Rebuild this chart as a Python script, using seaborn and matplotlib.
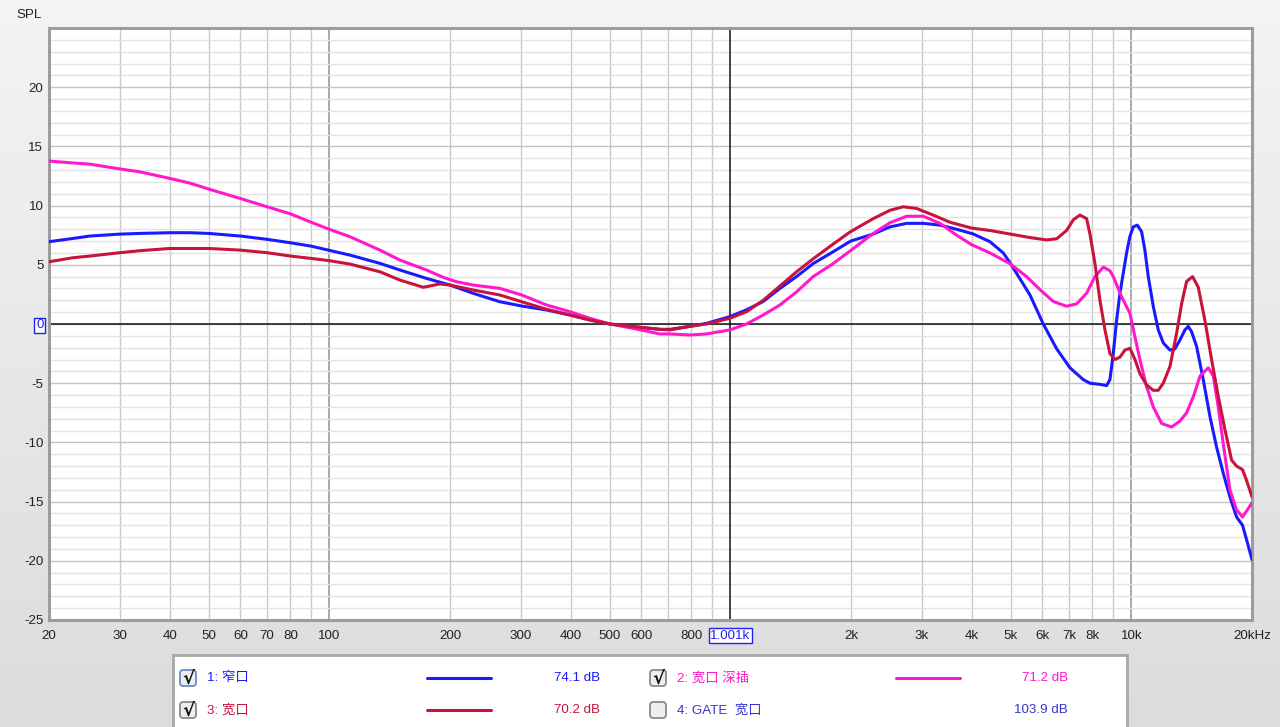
import numpy as np
import pandas as pd
import matplotlib
matplotlib.use("Agg")
import matplotlib.pyplot as plt
from matplotlib.patches import FancyBboxPatch
import seaborn as sns

# --- data (Hz, dB) ---
blue_freq = [20, 23, 25.3, 30, 33.7, 40, 44.9, 50, 60, 70, 80, 90, 100, 112.6, 133.8, 150,
             174.8, 199.9, 228.5, 266.3, 301.8, 348.4, 398.4, 446.5, 501, 572.6, 667, 707,
             793, 872, 997, 1098, 1208, 1329, 1462, 1609, 1805, 1995, 2273, 2500, 2753,
             3030, 3334, 3669, 4037, 4442, 4796, 5000, 5589, 6033, 6515, 7032, 7591, 7887,
             8353, 8679, 8846, 9017, 9191, 9369, 9550, 9734, 9922, 10114, 10349, 10611,
             10816, 11025, 11345, 11676, 12016, 12484, 12848, 13222, 13607, 13870, 14138,
             14550, 15118, 15707, 16320, 16956, 17617, 18305, 18941, 19380, 20000]
blue_spl = [6.95, 7.23, 7.43, 7.59, 7.65, 7.71, 7.71, 7.65, 7.43, 7.15, 6.86, 6.58, 6.22,
            5.82, 5.12, 4.56, 3.85, 3.29, 2.59, 1.88, 1.52, 1.18, 0.76, 0.34, 0.0, -0.22,
            -0.45, -0.45, -0.2, 0.05, 0.62, 1.2, 1.9, 3.0, 4.0, 5.1, 6.1, 7.0, 7.6, 8.2,
            8.5, 8.5, 8.35, 8.0, 7.6, 6.95, 6.0, 5.1, 2.45, 0.0, -2.1, -3.7, -4.7, -5.0,
            -5.1, -5.2, -4.7, -2.5, 0.3, 2.6, 4.3, 6.0, 7.4, 8.2, 8.35, 7.8, 6.2, 4.0,
            1.5, -0.5, -1.6, -2.2, -2.1, -1.35, -0.5, -0.2, -0.65, -1.9, -4.7, -7.8,
            -10.4, -12.6, -14.6, -16.3, -17.0, -18.2, -19.9]

pink_freq = [20, 23, 25.3, 30, 33.7, 40, 44.9, 50, 60, 70, 80, 90, 100, 112.6, 133.8, 150,
             174.8, 192.4, 207.6, 228.5, 266.3, 301.8, 348.4, 398.4, 446.5, 501, 572.6,
             667, 707, 793, 872, 997, 1098, 1208, 1329, 1462, 1609, 1805, 1995, 2273, 2500,
             2753, 3030, 3334, 3669, 3999, 4442, 4982, 5483, 5921, 6391, 6899, 7308, 7738,
             8114, 8518, 8846, 9017, 9460, 9922, 10214, 10508, 10919, 11345, 11902, 12604,
             13222, 13738, 14290, 14840, 15560, 16020, 16477, 16956, 17617, 18305, 18941,
             19380, 20000]
pink_spl = [13.76, 13.6, 13.5, 13.1, 12.85, 12.3, 11.9, 11.4, 10.6, 9.9, 9.3, 8.6, 8.0,
            7.37, 6.24, 5.4, 4.56, 3.94, 3.57, 3.29, 3.01, 2.45, 1.6, 1.04, 0.48, 0.0,
            -0.37, -0.84, -0.84, -0.93, -0.84, -0.5, 0.0, 0.76, 1.6, 2.7, 4.0, 5.1, 6.2,
            7.65, 8.55, 9.1, 9.1, 8.5, 7.5, 6.7, 6.0, 5.1, 4.0, 2.9, 1.9, 1.5, 1.7, 2.6,
            4.0, 4.8, 4.5, 4.0, 2.3, 0.9, -1.1, -3.0, -5.3, -7.0, -8.4, -8.7, -8.2, -7.5,
            -6.1, -4.4, -3.7, -4.4, -7.0, -10.1, -14.0, -15.7, -16.3, -15.8, -15.1]

red_freq = [20, 23, 25.3, 30, 33.7, 40, 44.9, 50, 60, 70, 80, 90, 100, 112.6, 133.8, 150,
            171.5, 188.7, 199.9, 228.5, 266.3, 301.8, 348.4, 398.4, 446.5, 501, 572.6, 667,
            707, 793, 872, 997, 1098, 1208, 1329, 1462, 1609, 1805, 1995, 2273, 2500, 2699,
            2913, 3206, 3528, 3999, 4442, 4982, 5589, 6151, 6515, 6899, 7168, 7447, 7738,
            7887, 8117, 8353, 8597, 8846, 9104, 9369, 9641, 9922, 10214, 10508, 10919,
            11345, 11676, 12016, 12484, 12971, 13349, 13738, 14220, 14691, 15262, 15856,
            16477, 17119, 17790, 18305, 18941, 19380, 20000]
red_spl = [5.26, 5.6, 5.74, 6.02, 6.19, 6.38, 6.38, 6.38, 6.24, 6.02, 5.74, 5.54, 5.35,
           5.06, 4.41, 3.71, 3.1, 3.38, 3.29, 2.87, 2.45, 1.88, 1.24, 0.76, 0.34, 0.0,
           -0.22, -0.45, -0.5, -0.2, 0.0, 0.48, 1.04, 2.0, 3.2, 4.4, 5.5, 6.75, 7.8, 8.9,
           9.6, 9.9, 9.76, 9.2, 8.6, 8.1, 7.9, 7.6, 7.3, 7.1, 7.2, 7.9, 8.8, 9.2, 8.9,
           7.6, 5.1, 2.0, -0.5, -2.5, -3.0, -2.8, -2.2, -2.05, -3.0, -4.2, -5.15, -5.6,
           -5.6, -5.0, -3.6, -0.8, 1.7, 3.6, 4.0, 3.1, 0.3, -3.0, -6.1, -8.9, -11.5,
           -12.0, -12.3, -13.2, -14.6]

curve_names = ["1: 窄口", "2: 宽口 深插", "3: 宽口"]
curve_colors = ["#1a1aff", "#ff18cc", "#c8143c"]
avg_levels = ["74.1 dB", "71.2 dB", "70.2 dB"]

x_tick_vals = [20, 30, 40, 50, 60, 70, 80, 100, 200, 300, 400, 500, 600, 800, 1001,
               2000, 3000, 4000, 5000, 6000, 7000, 8000, 10000, 20000]
x_tick_text = ["20", "30", "40", "50", "60", "70", "80", "100", "200", "300", "400", "500",
               "600", "800", "1.001k", "2k", "3k", "4k", "5k", "6k", "7k", "8k", "10k", "20kHz"]
y_tick_vals = [-25, -20, -15, -10, -5, 0, 5, 10, 15, 20]

df = pd.concat([
    pd.DataFrame({"freq": blue_freq, "spl": blue_spl, "curve": curve_names[0]}),
    pd.DataFrame({"freq": pink_freq, "spl": pink_spl, "curve": curve_names[1]}),
    pd.DataFrame({"freq": red_freq, "spl": red_spl, "curve": curve_names[2]}),
], ignore_index=True)

# --- style ---
sns.set_style("white")
plt.rcParams['font.family'] = ['Liberation Sans', 'Noto Sans CJK SC', 'DejaVu Sans']
FS = 9.6

W, H = 1280, 727
fig = plt.figure(figsize=(W / 100, H / 100), dpi=100)

# window-like gray gradient background
bg = fig.add_axes([0, 0, 1, 1], zorder=-10)
grad = np.linspace(0, 1, 256).reshape(-1, 1)
bg.imshow(grad, aspect='auto', cmap=matplotlib.colors.LinearSegmentedColormap.from_list(
    'g', ['#f4f4f4', '#dcdcdc']), extent=[0, 1, 0, 1])
bg.axis('off')

ax = fig.add_axes([49 / W, 107 / H, 1203 / W, 592 / H])
ax.set_facecolor('white')
ax.set_xscale('log')

# grid
for dec in [10, 100, 1000, 10000]:
    for m in range(2, 10):
        f = dec * m
        if 20 <= f <= 20000:
            ax.axvline(f, color='#cacaca', lw=1.0, zorder=0)
for f in [100, 10000]:
    ax.axvline(f, color='#999999', lw=1.2, zorder=0)
for v in range(-25, 26):
    ax.axhline(v, color='#c4c4c4' if v % 5 == 0 else '#e3e3e3', lw=1.0, zorder=0)
ax.axhline(0, color='#111111', lw=1.1, zorder=1)
ax.axvline(1001, color='#111111', lw=1.1, zorder=1)

sns.lineplot(data=df, x='freq', y='spl', hue='curve', hue_order=curve_names,
             palette=dict(zip(curve_names, curve_colors)), estimator=None,
             lw=2.2, legend=False, ax=ax, zorder=3)

ax.set_xlim(20, 20000)
ax.set_ylim(-25, 25)
ax.set_xlabel('')
ax.set_ylabel('')
ax.minorticks_off()
ax.set_xticks(x_tick_vals)
ax.set_xticklabels(x_tick_text)
ax.set_yticks(y_tick_vals)
ax.set_yticklabels([str(v) for v in y_tick_vals])
ax.tick_params(axis='x', length=0, pad=7, labelsize=FS, labelcolor='#222222')
ax.tick_params(axis='y', length=0, pad=4, labelsize=FS, labelcolor='#222222')
for sp in ax.spines.values():
    sp.set_color('#9c9c9c')
    sp.set_linewidth(2.2)

box = dict(boxstyle='square,pad=0.12', fc='white', ec='#2222ee', lw=1.0)
for lab in ax.get_xticklabels():
    if lab.get_text() == '1.001k':
        lab.set_color('#2222ee')
        lab.set_bbox(box)
for lab in ax.get_yticklabels():
    if lab.get_text() == '0':
        lab.set_color('#2222ee')
        lab.set_bbox(box)

fig.text(16 / W, 1 - 15 / H, 'SPL', fontsize=FS, va='center', ha='left', color='#222222')

# --- legend panel ---
lg = fig.add_axes([173 / W, 0, 954 / W, 72 / H])
lg.set_xlim(173, 1127)
lg.set_ylim(727, 655)
lg.set_xticks([])
lg.set_yticks([])
lg.set_facecolor('white')
for k, sp in lg.spines.items():
    sp.set_color('#a8a8a8')
    sp.set_linewidth(2.0)
lg.spines['bottom'].set_visible(False)


def checkbox(cx, cy, checked, focus=False):
    lg.add_patch(FancyBboxPatch((cx - 8, cy - 8), 16, 16,
                                boxstyle='round,pad=0,rounding_size=3',
                                fc='#eeeeee', ec='#6a8cc8' if focus else '#8a8a8a', lw=1.3))
    if checked:
        lg.text(cx, cy + 0.5, '√', ha='center', va='center', fontsize=13,
                fontweight='bold', color='#111111', family=['DejaVu Sans'])


rows = [(678, 188, 207, 427, 491, 600, 0, True),
        (678, 658, 677, 896, 960, 1068, 1, False),
        (710, 188, 207, 427, 491, 600, 2, False)]
for cy, cbx, tx, l0, l1, vx, i, focus in rows:
    checkbox(cbx, cy, True, focus)
    lg.text(tx, cy, curve_names[i], ha='left', va='center', fontsize=FS, color=curve_colors[i])
    lg.plot([l0, l1], [cy, cy], color=curve_colors[i], lw=2.2)
    lg.text(vx, cy, avg_levels[i], ha='right', va='center', fontsize=FS, color=curve_colors[i])

checkbox(658, 710, False)
lg.text(677, 710, '4: GATE  宽口', ha='left', va='center', fontsize=FS, color='#3434d0')
lg.text(1068, 710, '103.9 dB', ha='right', va='center', fontsize=FS, color='#3434d0')

fig.savefig('out.png', dpi=100)
